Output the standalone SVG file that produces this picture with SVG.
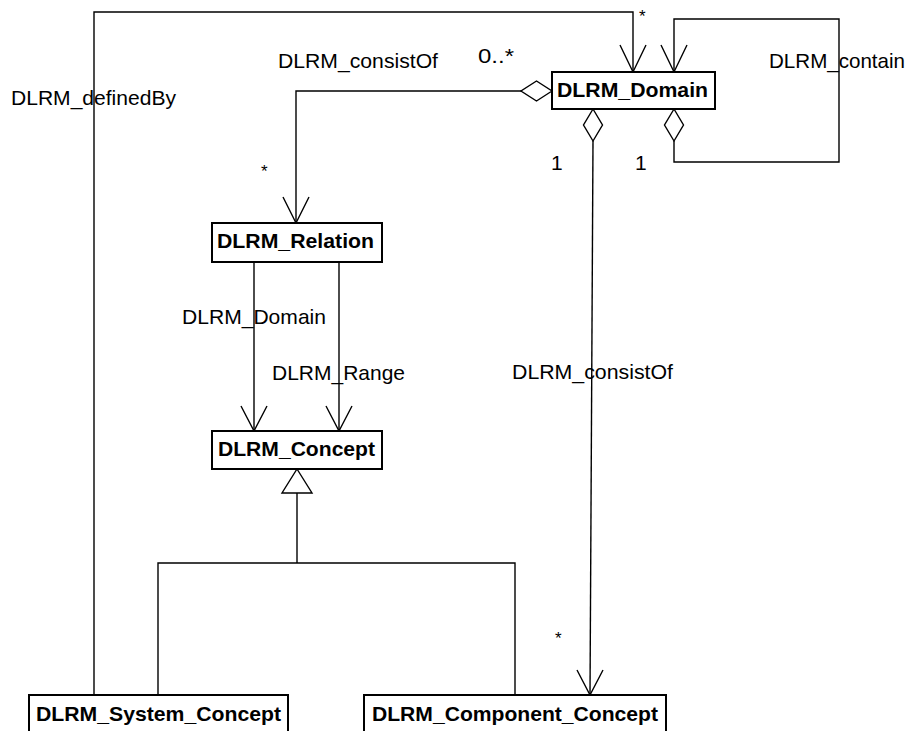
<svg xmlns="http://www.w3.org/2000/svg" width="911" height="731" viewBox="0 0 911 731">
<style>
.box{fill:#fff;stroke:#000;stroke-width:2}
.ln{fill:none;stroke:#000;stroke-width:1.4}
.dm{fill:#fff;stroke:#000;stroke-width:1.4}
.bt{font-family:"Liberation Sans",Arial,sans-serif;font-weight:bold;font-size:21px;fill:#000}
.lt{font-family:"Liberation Sans",Arial,sans-serif;font-size:21px;fill:#000}
.st{font-family:"Liberation Sans",Arial,sans-serif;font-size:17px;fill:#000}
</style>
<rect width="911" height="731" fill="#fff"/>
<g id="connectors">
  <!-- definedBy -->
  <polyline class="ln" points="94,695 94,12 633,12 633,72"/>
  <polyline class="ln" points="620,45 633,72 646,45"/>
  <!-- contain self loop -->
  <polyline class="ln" points="674,141 674,162 839,162 839,19 674,19 674,72"/>
  <polyline class="ln" points="661,45 674,72 687,45"/>
  <polygon class="dm" points="674,109 683.5,125 674,141 664.5,125"/>
  <!-- consistOf to Relation -->
  <polyline class="ln" points="521,91 296,91 296,223"/>
  <polyline class="ln" points="283,197 296,223 309,197"/>
  <polygon class="dm" points="552,91 536.5,101 521,91 536.5,81"/>
  <!-- consistOf to Component -->
  <line class="ln" x1="593" y1="141" x2="590" y2="695"/>
  <polyline class="ln" points="577,670 590,695 603,670"/>
  <polygon class="dm" points="593,109 602.5,125 593,141 583.5,125"/>
  <!-- Relation to Concept -->
  <line class="ln" x1="254" y1="262" x2="254" y2="431"/>
  <polyline class="ln" points="241,406 254,431 267,406"/>
  <line class="ln" x1="339" y1="262" x2="339" y2="431"/>
  <polyline class="ln" points="326,406 339,431 352,406"/>
  <!-- generalization -->
  <polygon class="dm" points="297,469 312,493 282,493"/>
  <line class="ln" x1="297" y1="493" x2="297" y2="563"/>
  <polyline class="ln" points="158,695 158,563 515,563 515,695"/>
</g>
<g id="labels">
  <text class="lt" x="11" y="105" textLength="165" lengthAdjust="spacingAndGlyphs">DLRM_definedBy</text>
  <text class="lt" x="278" y="68" textLength="160" lengthAdjust="spacingAndGlyphs">DLRM_consistOf</text>
  <text class="lt" x="478" y="63" textLength="36" lengthAdjust="spacingAndGlyphs">0..*</text>
  <text class="st" x="639" y="22">*</text>
  <text class="lt" x="769" y="68" textLength="136" lengthAdjust="spacingAndGlyphs">DLRM_contain</text>
  <text class="lt" x="551" y="170">1</text>
  <text class="lt" x="635" y="170">1</text>
  <text class="st" x="261" y="177">*</text>
  <text class="lt" x="182" y="324" textLength="144" lengthAdjust="spacingAndGlyphs">DLRM_Domain</text>
  <text class="lt" x="272" y="380" textLength="133" lengthAdjust="spacingAndGlyphs">DLRM_Range</text>
  <text class="lt" x="512" y="379" textLength="161" lengthAdjust="spacingAndGlyphs">DLRM_consistOf</text>
  <text class="st" x="555" y="644">*</text>
</g>
<g id="DLRM_Domain">
  <rect class="box" x="552" y="72" width="163" height="37"/>
  <text class="bt" x="557" y="97" textLength="151" lengthAdjust="spacingAndGlyphs">DLRM_Domain</text>
</g>
<g id="DLRM_Relation">
  <rect class="box" x="212" y="223" width="170" height="39"/>
  <text class="bt" x="217" y="248" textLength="157" lengthAdjust="spacingAndGlyphs">DLRM_Relation</text>
</g>
<g id="DLRM_Concept">
  <rect class="box" x="212" y="431" width="170" height="38"/>
  <text class="bt" x="218" y="456" textLength="157" lengthAdjust="spacingAndGlyphs">DLRM_Concept</text>
</g>
<g id="DLRM_System_Concept">
  <rect class="box" x="29" y="695" width="259" height="40"/>
  <text class="bt" x="36" y="721" textLength="245" lengthAdjust="spacingAndGlyphs">DLRM_System_Concept</text>
</g>
<g id="DLRM_Component_Concept">
  <rect class="box" x="364" y="695" width="302" height="40"/>
  <text class="bt" x="372" y="721" textLength="286" lengthAdjust="spacingAndGlyphs">DLRM_Component_Concept</text>
</g>
</svg>
